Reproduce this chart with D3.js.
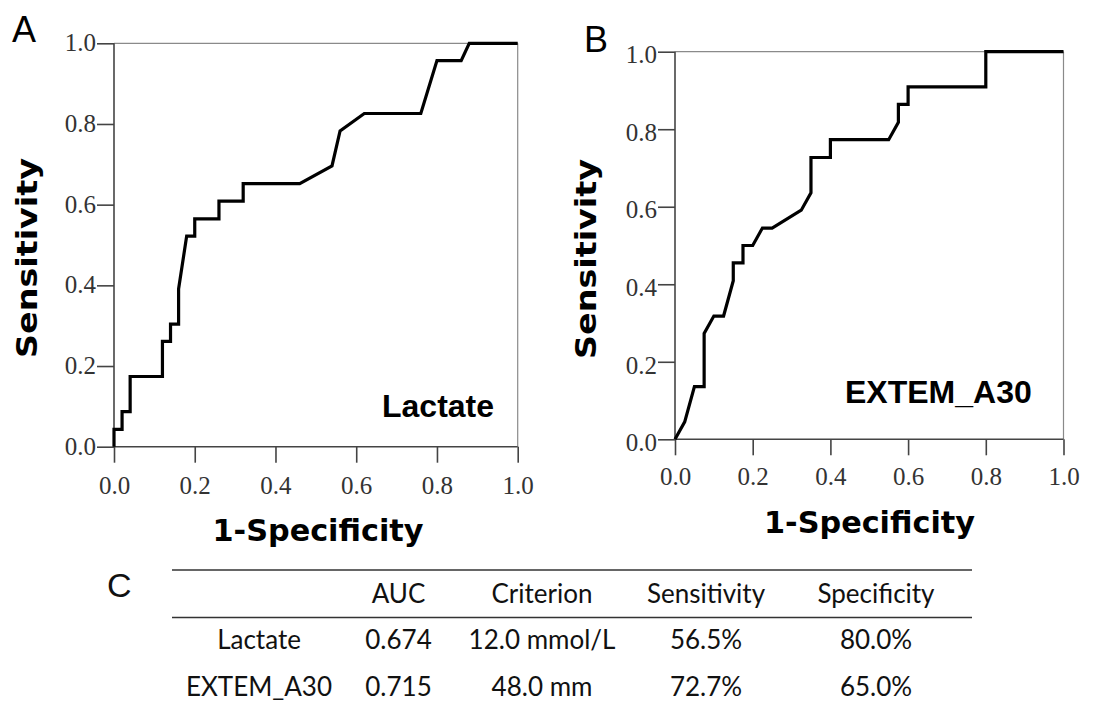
<!DOCTYPE html>
<html>
<head>
<meta charset="utf-8">
<script src="https://cdn.jsdelivr.net/npm/d3@7"></script>
<style>
  body { margin: 0; background: #fff; }
  svg { display: block; }
</style>
</head>
<body>
<div id="chart"></div>
<script>
// ROC curve A - Lactate (1-specificity, sensitivity)
var lactateFpr  = [0, 0, 0.02, 0.02, 0.04, 0.04, 0.12, 0.12, 0.14, 0.14, 0.16, 0.16, 0.18, 0.20, 0.20, 0.26, 0.26, 0.32, 0.32, 0.46, 0.54, 0.56, 0.62, 0.76, 0.80, 0.86, 0.88, 1.0];
var lactateSens = [0, 0.043, 0.043, 0.087, 0.087, 0.174, 0.174, 0.261, 0.261, 0.304, 0.304, 0.391, 0.522, 0.522, 0.565, 0.565, 0.609, 0.609, 0.652, 0.652, 0.696, 0.783, 0.826, 0.826, 0.957, 0.957, 1.0, 1.0];

// ROC curve B - EXTEM_A30
var extemFpr  = [0, 0.025, 0.05, 0.075, 0.075, 0.10, 0.125, 0.15, 0.15, 0.175, 0.175, 0.20, 0.225, 0.25, 0.325, 0.35, 0.35, 0.40, 0.40, 0.55, 0.575, 0.575, 0.60, 0.60, 0.80, 0.80, 1.0];
var extemSens = [0, 0.045, 0.136, 0.136, 0.273, 0.318, 0.318, 0.409, 0.455, 0.455, 0.500, 0.500, 0.545, 0.545, 0.591, 0.636, 0.727, 0.727, 0.773, 0.773, 0.818, 0.864, 0.864, 0.909, 0.909, 1.0, 1.0];

var ticks = [0, 0.2, 0.4, 0.6, 0.8, 1.0];

// table C
var tableHeader = ["", "AUC", "Criterion", "Sensitivity", "Specificity"];
var tableRows = [
    ["Lactate", "0.674", "12.0 mmol/L", "56.5%", "80.0%"],
    ["EXTEM_A30", "0.715", "48.0 mm", "72.7%", "65.0%"]
];

var width = 1097, height = 704;

var svg = d3.select("#chart").append("svg")
    .attr("width", width)
    .attr("height", height);

function drawPanel(opt) {
    var x = d3.scaleLinear().domain([0, 1]).range([opt.left, opt.right]);
    var y = d3.scaleLinear().domain([0, 1]).range([opt.bottom, opt.top]);
    var g = svg.append("g");

    // frame on top and right
    g.append("line")
        .attr("x1", x(0)).attr("x2", x(1))
        .attr("y1", y(1)).attr("y2", y(1))
        .attr("stroke", "#8a8a8a").attr("stroke-width", 1.2);
    g.append("line")
        .attr("x1", x(1)).attr("x2", x(1))
        .attr("y1", y(1)).attr("y2", y(0))
        .attr("stroke", "#8a8a8a").attr("stroke-width", 1.2);

    var xAxis = d3.axisBottom(x).tickValues(ticks).tickSize(16).tickFormat(d3.format(".1f"));
    var yAxis = d3.axisLeft(y).tickValues(ticks).tickSize(17).tickPadding(1).tickFormat(d3.format(".1f"));

    var gx = g.append("g")
        .attr("transform", "translate(0," + y(0) + ")")
        .call(xAxis);
    var gy = g.append("g")
        .attr("transform", "translate(" + x(0) + ",0)")
        .call(yAxis);

    [gx, gy].forEach(function(a) {
        a.select(".domain").attr("stroke", "#444").attr("stroke-width", 1.6);
        a.selectAll(".tick line").attr("stroke", "#444").attr("stroke-width", 1.6);
        a.selectAll(".tick text")
            .attr("fill", "#333")
            .style("font-family", "'Liberation Serif', 'Times New Roman', serif")
            .style("font-size", "25px");
    });
    gx.select(".domain").attr("d", "M" + x(0) + ",0H" + x(1));
    gy.select(".domain").attr("d", "M0," + y(0) + "V" + y(1));
    gx.selectAll(".tick text").attr("y", opt.xLabelDy).attr("dy", 0);
    gy.selectAll(".tick text").attr("dy", opt.yLabelDy);

    var line = d3.line()
        .x(function(d) { return x(d[0]); })
        .y(function(d) { return y(d[1]); });

    var pts = opt.fpr.map(function(v, i) { return [v, opt.sens[i]]; });
    g.append("path")
        .datum(pts)
        .attr("d", line)
        .attr("fill", "none")
        .attr("stroke", "#000")
        .attr("stroke-width", 3.2)
        .attr("stroke-linejoin", "miter");

    // axis titles
    g.append("text")
        .attr("transform", "translate(" + opt.yTitleX + "," + opt.yTitleY + ") rotate(-90)")
        .attr("text-anchor", "middle")
        .attr("textLength", 200)
        .attr("lengthAdjust", "spacingAndGlyphs")
        .style("font-family", "'DejaVu Sans', Verdana, sans-serif")
        .style("font-weight", "bold")
        .style("font-size", "28px")
        .text("Sensitivity");

    g.append("text")
        .attr("x", opt.xTitleX)
        .attr("y", opt.xTitleY)
        .attr("text-anchor", "middle")
        .attr("textLength", 211)
        .attr("lengthAdjust", "spacingAndGlyphs")
        .style("font-family", "'DejaVu Sans', Verdana, sans-serif")
        .style("font-weight", "bold")
        .style("font-size", "30px")
        .text("1-Specificity");

    // curve name
    g.append("text")
        .attr("x", opt.nameX)
        .attr("y", opt.nameY)
        .style("font-family", "'Liberation Sans', Arial, sans-serif")
        .style("font-weight", "bold")
        .style("font-size", "32px")
        .text(opt.name);

    // panel letter
    g.append("text")
        .attr("x", opt.letterX)
        .attr("y", opt.letterY)
        .style("font-family", "'Liberation Sans', Arial, sans-serif")
        .style("font-size", "36px")
        .text(opt.letter);
}

drawPanel({
    left: 114, right: 517.7, top: 43.3, bottom: 446.7,
    fpr: lactateFpr, sens: lactateSens,
    xLabelDy: 47, yLabelDy: "0.3em",
    yTitleX: 37, yTitleY: 258,
    xTitleX: 318, xTitleY: 541,
    name: "Lactate", nameX: 382, nameY: 417,
    letter: "A", letterX: 12, letterY: 42
});

drawPanel({
    left: 675, right: 1063.5, top: 51.7, bottom: 439.3,
    fpr: extemFpr, sens: extemSens,
    xLabelDy: 46, yLabelDy: "0.45em",
    yTitleX: 596, yTitleY: 259,
    xTitleX: 869.5, xTitleY: 533,
    name: "EXTEM_A30", nameX: 845, nameY: 403,
    letter: "B", letterX: 584, letterY: 52
});

// table C
var colX = [259, 398.5, 542, 706, 876];
var headerY = 603, rowY = [649, 696];
var tg = svg.append("g")
    .style("font-family", "Lato, 'Open Sans', sans-serif")
    .style("font-size", "26px")
    .attr("fill", "#111");

tg.append("text")
    .attr("x", 107).attr("y", 597)
    .style("font-family", "'Liberation Sans', Arial, sans-serif")
    .style("font-size", "34px")
    .text("C");

[570, 617.5].forEach(function(ly) {
    tg.append("line")
        .attr("x1", 172).attr("x2", 972)
        .attr("y1", ly).attr("y2", ly)
        .attr("stroke", "#333").attr("stroke-width", 1.6);
});

tg.selectAll("text.head")
    .data(tableHeader)
    .enter().append("text")
    .attr("class", "head")
    .attr("x", function(d, i) { return colX[i]; })
    .attr("y", headerY)
    .attr("text-anchor", "middle")
    .text(function(d) { return d; });

tableRows.forEach(function(row, r) {
    tg.selectAll("text.row" + r)
        .data(row)
        .enter().append("text")
        .attr("class", "row" + r)
        .attr("x", function(d, i) { return colX[i]; })
        .attr("y", rowY[r])
        .attr("text-anchor", "middle")
        .text(function(d) { return d; });
});
</script>
</body>
</html>
